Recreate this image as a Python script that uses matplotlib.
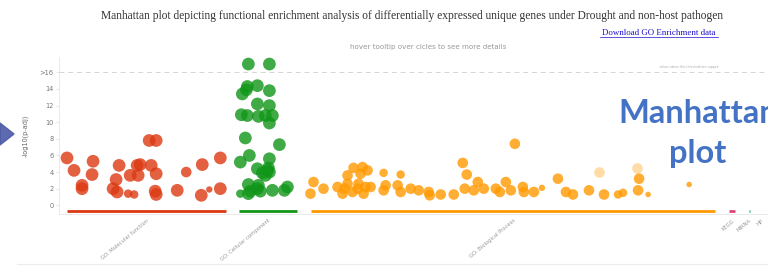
import matplotlib; matplotlib.use("Agg")
import matplotlib.pyplot as plt
from matplotlib.patches import Polygon

# term positions along the genome-like axis and -log10(p-adj) values
mf_x = [67,74,82,82,93,92,113,117,116,119,128,134,130,138,137,140,151,149,156,156,155,156,177,186,202,201,209,220,220]
mf_y = [5.7,4.2,2.4,2.0,5.3,3.7,2.0,1.6,3.1,4.8,1.4,1.3,3.6,3.6,4.8,4.9,4.8,7.8,7.8,3.8,1.7,1.3,1.8,4.0,4.9,1.2,1.9,5.7,2.0]
mf_sz = [3,3,3,3,3,3,3,3,3,3,2,2,3,3,3,3,3,3,3,3,3,3,3,2.5,3,3,1.5,3,3]

cc_x = [248,269,247,257,246,242,269,257,269,241,247,258,265,272,269,245,279,249,240,269,257,267,269,265,248,258,257,250,240,248,260,272,284,287,268,262]
cc_y = [17,17,14.3,14.4,13.9,13.4,13.8,12.2,12.0,10.9,10.8,10.7,10.8,10.8,9.9,8.1,7.3,6.0,5.2,5.6,4.4,4.2,4.0,3.6,2.5,2.4,2.0,1.7,1.4,1.4,1.7,1.8,1.8,2.2,4.5,3.9]
cc_sz = [3,3,3,3,3,3,3,3,3,3,3,3,3,3,3,3,3,3,3,3,3,3,3,3,3,3,3,3,2,3,3,3,3,3,3,3]

bp_x = [313,310,323,337,342,347,347,353,362,367,360,357,363,365,352,344,358,370,383,385,383,400,397,400,410,418,428,429,440,453,
        462,466,464,477,473,483,495,499,505,510,514,522,523,533,541,557,565,572,588,603,617,622,638,637,647,688]
bp_y = [2.8,1.4,2.0,2.2,1.4,3.6,2.6,4.5,4.6,4.2,3.8,2.0,1.4,2.2,1.6,2.0,2.6,2.2,3.9,2.4,1.8,3.7,2.4,1.6,2.0,1.8,1.6,1.2,1.3,1.3,
        5.1,3.7,2.0,2.8,1.8,2.0,2.0,1.6,2.8,1.8,7.4,2.2,1.6,1.6,2.1,3.2,1.6,1.3,1.8,1.3,1.3,1.5,3.2,1.8,1.3,2.5]
bp_sz = [2.5,2.5,2.5,2.5,2.5,2.5,2.5,2.5,2.5,2.5,2.5,2.5,2.5,2.5,2.5,2.5,2.5,2.5,2,2.5,2.5,2,2.5,2.5,2.5,2.5,2.5,2.5,2.5,2.5,
        2.5,2.5,2.5,2.5,2.5,2.5,2.5,2.5,2.5,2.5,2.5,2.5,2.5,2.5,1.5,2.5,2.5,2.5,2.5,2.5,2,2,2.5,2.5,1.3,1.3]
bp_faded_x = [598, 636]
bp_faded_y = [4.0, 4.5]

sources = ["GO: Molecular function","GO: Cellular component","GO: Biological Process","KEGG","MIRNA","HP"]
src_start = [67,239,311,728,748,760]
src_end = [226,297,714,734,749,760]
src_center = [146,268,512,731,748,760]
src_col = ["#dc3912","#109618","#ff9900","#dd4477","#22aa99","#990099"]

yticks = [0,2,4,6,8,10,12,14,16]
yticklabels = ["0","2","4","6","8","10","12","14",">16"]

def area(v): return (v*4.2*0.72)**2 * 0.785 * 1.3

fig = plt.figure(figsize=(7.68,2.67), dpi=100)
ax = fig.add_axes([59/768, 1-214/267, 1-59/768+0.02, (214-57)/267])
ax.set_xlim(59, 782); ax.set_ylim(-1.05, 17.85)

for xs, ys, ss, c in [(mf_x,mf_y,mf_sz,src_col[0]),(cc_x,cc_y,cc_sz,src_col[1]),(bp_x,bp_y,bp_sz,src_col[2])]:
    ax.scatter(xs, ys, s=[area(v) for v in ss], color=c, alpha=0.8, lw=0, zorder=3)
ax.scatter(bp_faded_x, bp_faded_y, s=area(2.5), color=src_col[2], alpha=0.35, lw=0, zorder=3)

for a, b, c in zip(src_start, src_end, src_col):
    ax.plot([a, b], [-0.7, -0.7], color=c, lw=2, solid_capstyle="butt", zorder=2)

ax.axhline(16, color="#d5d5d5", lw=0.7, ls=(0,(5,4)), zorder=1)
ax.text(688, 16.35, "values above this threshold are capped", fontsize=2.2, color="#aaaaaa", ha="center", va="bottom")

ax.set_yticks(yticks); ax.set_yticklabels(yticklabels, fontsize=4.8, color="#777777")
ax.set_xticks(src_center); ax.set_xticklabels(sources, rotation=40, ha="right", rotation_mode="anchor", fontsize=3.8, color="#999999")
ax.tick_params(axis="y", length=2.5, width=0.5, color="#dddddd", pad=1.5)
ax.tick_params(axis="x", length=0, pad=3)
ax.set_ylabel("-log10(p-adj)", fontsize=4.7, color="#666666", labelpad=8)
for s in ["top","right"]: ax.spines[s].set_visible(False)
for s in ["left","bottom"]: ax.spines[s].set_color("#e6e6e6"); ax.spines[s].set_linewidth(0.6)

fig.text(412/768, 1-16/267, "Manhattan plot depicting functional enrichment analysis of differentially expressed unique genes under Drought and non-host pathogen",
         family="Liberation Serif", fontsize=8.3, color="#333333", ha="center", va="center")
fig.text(659/768, 1-33/267, "Download GO Enrichment data", family="Liberation Serif", fontsize=6.4,
         color="#1a0dcc", ha="center", va="center")
fig.add_artist(plt.Line2D([600/768, 718/768], [1-37/267, 1-37/267], color="#1a0dcc", lw=0.5))
fig.text(428/768, 1-47/267, "hover tooltip over cicles to see more details", fontsize=5.1, color="#999999", ha="center", va="center")
fig.add_artist(plt.Line2D([17/768, 1], [1-264/267, 1-264/267], color="#ececec", lw=0.8))

# pointer arrow on the left margin
fig.add_artist(Polygon([[0, 1-123/267], [14/768, 1-134/267], [0, 1-145/267]], closed=True,
                       transform=fig.transFigure, color="#4b5aa6", alpha=0.9))

fig.text(698/768, 1-114/267, "Manhattan", family="Lato", weight="bold", fontsize=23.5, color="#4472c4", ha="center", va="center")
fig.text(698/768, 1-154/267, "plot", family="Lato", weight="bold", fontsize=23.5, color="#4472c4", ha="center", va="center")

fig.savefig("out.png", dpi=100)
